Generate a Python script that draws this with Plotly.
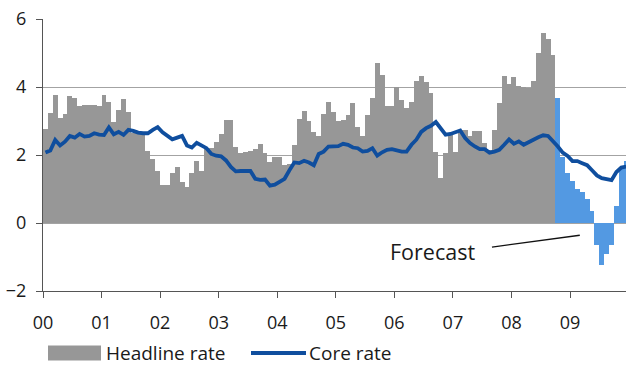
import plotly.graph_objects as go

# Monthly inflation, Jan 2000 - Dec 2009 (per cent, year on year)
year_labels = ["00", "01", "02", "03", "04", "05", "06", "07", "08", "09"]

# Headline rate, outturns Jan 2000 - Sep 2008
headline_actual = [
    2.77, 3.23, 3.77, 3.09, 3.21, 3.74, 3.68, 3.45, 3.48, 3.48, 3.48, 3.43,
    3.77, 3.57, 2.96, 3.31, 3.66, 3.27, 2.66, 2.65, 2.65, 2.13, 1.89, 1.54,
    1.13, 1.13, 1.47, 1.66, 1.20, 1.07, 1.46, 1.82, 1.53, 2.20, 2.20, 2.39,
    2.62, 3.03, 3.03, 2.23, 2.05, 2.10, 2.12, 2.17, 2.33, 2.05, 1.78, 1.93,
    1.95, 1.71, 1.75, 2.30, 3.05, 3.30, 3.00, 2.68, 2.55, 3.20, 3.55, 3.26,
    3.00, 3.03, 3.17, 3.53, 2.83, 2.56, 3.17, 3.67, 4.72, 4.36, 3.45, 3.45,
    4.00, 3.62, 3.39, 3.57, 4.19, 4.32, 4.15, 3.82, 2.10, 1.33, 2.05, 2.60,
    2.10, 2.75, 2.75, 2.55, 2.70, 2.70, 2.35, 2.15, 2.74, 3.53, 4.33, 4.10,
    4.30, 4.03, 4.00, 3.97, 4.18, 5.00, 5.60, 5.42, 4.95,
]

# Headline rate, forecast Oct 2008 - Dec 2009
headline_forecast = [
    3.67, 1.95, 1.48, 1.25, 1.00, 0.92, 0.72, 0.35, -0.64, -1.23, -0.92,
    -0.66, 0.50, 1.60, 1.82,
]

# Core rate, Jan 2000 - Dec 2009
core = [
    2.07, 2.13, 2.44, 2.28, 2.39, 2.56, 2.51, 2.62, 2.54, 2.56, 2.64, 2.60,
    2.59, 2.81, 2.61, 2.68, 2.59, 2.74, 2.71, 2.66, 2.64, 2.64, 2.74, 2.82,
    2.67, 2.57, 2.46, 2.51, 2.56, 2.28, 2.22, 2.36, 2.27, 2.20, 2.03, 1.98,
    1.96, 1.84, 1.65, 1.52, 1.53, 1.52, 1.53, 1.30, 1.27, 1.28, 1.10, 1.13,
    1.22, 1.30, 1.55, 1.78, 1.76, 1.83, 1.78, 1.70, 2.03, 2.10, 2.25, 2.25,
    2.26, 2.33, 2.30, 2.22, 2.20, 2.10, 2.12, 2.20, 1.98, 2.08, 2.15, 2.17,
    2.13, 2.10, 2.10, 2.30, 2.45, 2.68, 2.79, 2.86, 2.97, 2.79, 2.60, 2.62,
    2.68, 2.72, 2.50, 2.35, 2.25, 2.17, 2.17, 2.07, 2.10, 2.15, 2.30, 2.46,
    2.33, 2.40, 2.30, 2.36, 2.45, 2.52, 2.58, 2.56, 2.42, 2.25, 2.07, 1.97,
    1.82, 1.82, 1.76, 1.70, 1.55, 1.40, 1.32, 1.30, 1.26, 1.50, 1.63, 1.66,
]

GREY = "#979797"
LIGHT_BLUE = "#5399E2"
DARK_BLUE = "#0F4E9E"
TEXT = "#1a1a1a"
FONT = "Open Sans"

n_actual = len(headline_actual)
x_actual = [m + 0.5 for m in range(n_actual)]
x_forecast = [n_actual + m + 0.5 for m in range(len(headline_forecast))]
x_core = [m + 0.5 for m in range(len(core))]

fig = go.Figure()
fig.add_trace(go.Bar(x=x_actual, y=headline_actual, width=1.0,
                     marker=dict(color=GREY, line=dict(width=0)),
                     name="Headline rate", showlegend=False))
fig.add_trace(go.Bar(x=x_forecast, y=headline_forecast, width=1.0,
                     marker=dict(color=LIGHT_BLUE, line=dict(width=0)),
                     name="Headline rate (forecast)", showlegend=False))
fig.add_trace(go.Scatter(x=x_core, y=core, mode="lines",
                         line=dict(color=DARK_BLUE, width=3.8),
                         name="Core rate", showlegend=False))

W, H = 626, 365
L, R, T, B = 43, 0, 19, 74
pw, ph = W - L - R, H - T - B


def px_x(p):
    return (p - L) / pw


def px_y(p):
    return 1 - (p - T) / ph


# Forecast label and leader line
fig.add_annotation(x=79.8, y=-0.84, xref="x", yref="y", text="Forecast",
                   showarrow=False, font=dict(family=FONT, size=21.5, color=TEXT))
fig.add_shape(type="line", xref="x", yref="y", x0=92.0, y0=-0.71, x1=110.0, y1=-0.36,
              line=dict(color="#111111", width=1.3))

# Legend row
leg_y = 353
fig.add_shape(type="rect", xref="paper", yref="paper",
              x0=px_x(48), x1=px_x(101), y0=px_y(leg_y + 7.5), y1=px_y(leg_y - 7.5),
              fillcolor=GREY, line=dict(width=0))
fig.add_annotation(xref="paper", yref="paper", x=px_x(105), y=px_y(leg_y - 0.5),
                   xanchor="left", yanchor="middle", text="Headline rate",
                   borderpad=0, showarrow=False,
                   font=dict(family=FONT, size=19, color=TEXT))
fig.add_shape(type="line", xref="paper", yref="paper",
              x0=px_x(251), x1=px_x(306), y0=px_y(leg_y), y1=px_y(leg_y),
              line=dict(color=DARK_BLUE, width=4))
fig.add_annotation(xref="paper", yref="paper", x=px_x(308), y=px_y(leg_y - 0.5),
                   xanchor="left", yanchor="middle", text="Core rate",
                   borderpad=0, showarrow=False,
                   font=dict(family=FONT, size=19, color=TEXT))

fig.update_layout(
    width=W, height=H,
    margin=dict(l=L, r=R, t=T, b=B, pad=0),
    paper_bgcolor="white", plot_bgcolor="white",
    barmode="overlay", bargap=0,
    font=dict(family=FONT, size=18, color=TEXT),
)
fig.update_xaxes(
    range=[0, pw / 4.88],
    tickmode="array", tickvals=[12 * i for i in range(len(year_labels))],
    ticktext=year_labels,
    ticks="outside", ticklen=6, tickcolor="#555555", tickwidth=1,
    showline=True, linecolor="#555555", linewidth=1,
    showgrid=False, zeroline=False,
    ticklabelstandoff=9,
    tickfont=dict(family=FONT, size=18, color=TEXT),
)
fig.update_yaxes(
    range=[-2, 6], tickvals=[-2, 0, 2, 4, 6],
    ticks="outside", ticklen=6, tickcolor="#555555", tickwidth=1,
    showline=True, linecolor="#555555", linewidth=1,
    showgrid=True, gridcolor="#A3A3A3", gridwidth=1,
    zeroline=True, zerolinecolor="#A3A3A3", zerolinewidth=1,
    ticklabelstandoff=6,
    tickfont=dict(family=FONT, size=18, color=TEXT),
)

fig.write_html("out.html")
